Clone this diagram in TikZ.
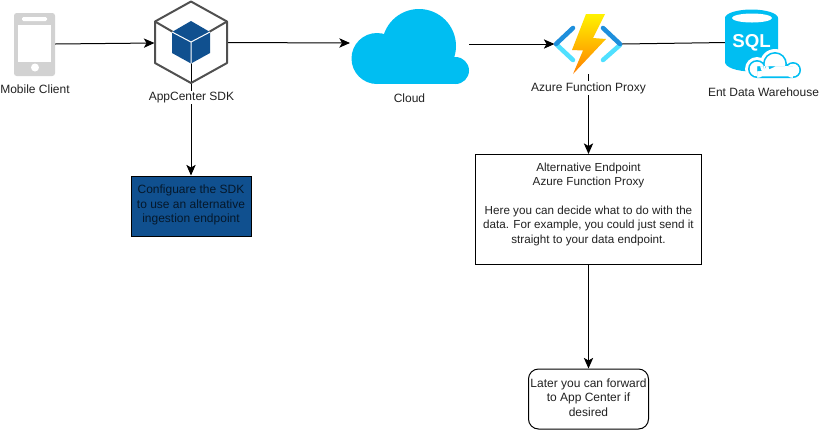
\documentclass[tikz,border=0pt]{standalone}
\usepackage{fontspec}
\setmainfont{Liberation Sans}
\usetikzlibrary{arrows.meta,shadings}
\definecolor{cyanA}{HTML}{00BEF2}
\definecolor{navyA}{HTML}{10508F}
\definecolor{grayA}{HTML}{D2D2D2}
\definecolor{hexA}{HTML}{505050}
\definecolor{txtA}{HTML}{222222}
\definecolor{chevD}{HTML}{1E8FDC}
\definecolor{chevL}{HTML}{50E0FF}
\tikzset{
 conn/.style={draw=black,line width=0.75pt,-{Stealth[length=8pt,width=7pt,inset=2pt]}},
 plainconn/.style={draw=black,line width=0.75pt},
 lbl/.style={font=\fontsize{9}{10.5}\selectfont,text=txtA,align=center,inner sep=1pt},
 lblw/.style={lbl,fill=white},
 boxa/.style={draw=black,line width=0.75pt,align=center,font=\fontsize{9}{10.8}\selectfont,text=txtA,inner sep=0pt},
}
\begin{document}
\begin{tikzpicture}[x=0.75pt,y=-0.75pt]
\useasboundingbox (0,0) rectangle (819,430);
\fill[white] (0,0) rectangle (819,430);
% anchors for the icons
\coordinate (phoneR) at (55,44);
\coordinate (hexL) at (154.5,43);
\coordinate (hexR) at (228,42.5);
\coordinate (hexC) at (191,42);
\coordinate (cloudL) at (350,43);
\coordinate (cloudR) at (469,44);
\coordinate (funL) at (554.5,44);
\coordinate (funR) at (622,44);
\coordinate (funB) at (588.5,74);
\coordinate (sqlL) at (726,42.5);
% boxes
\node[boxa,fill=navyA,text=black!70!navyA,minimum width=90pt,minimum height=45pt] (cfg) at (191,206) {Configuare the SDK\\to use an alternative\\ingestion endpoint\rule[-3pt]{0pt}{0pt}};
\node[boxa,fill=white,minimum width=169.5pt,minimum height=82.5pt,font=\fontsize{8.75}{10.8}\selectfont] (alt) at (588.5,209.5) {Alternative Endpoint\\Azure Function Proxy\\[10.8pt]Here you can decide what to do with the\\data. For example, you could just send it\\straight to your data endpoint.\rule[-10pt]{0pt}{0pt}};
\node[boxa,fill=white,rounded corners=7.5pt,minimum width=90pt,minimum height=45pt] (later) at (588.5,399) {Later you can forward\\to App Center if\\desired\rule[-2.5pt]{0pt}{0pt}};
% connectors
\draw[conn] (phoneR) -- (hexL);
\draw[conn] (hexR) -- (cloudL);
\draw[conn] (cloudR) -- (funL);
\draw[plainconn] (funR) -- (sqlL);
\draw[conn] (hexC) -- (cfg.north);
\draw[conn] (funB) -- (alt.north);
\draw[conn] (alt.south) -- (later.north);
% phone
\fill[grayA,rounded corners=2pt] (14,13) rectangle (55,76);
\fill[white] (18,25) rectangle (51,62);
\fill[white,rounded corners=1pt] (22,17) rectangle (47,21);
\fill[white] (35,67.5) circle (4);
% hexagon
\draw[hexA,line width=1.5pt,line join=round] (191,1.5) -- (227,21.5) -- (227,63) -- (191,83) -- (155,63) -- (155,21.5) -- cycle;
\draw[hexA,line width=1.5pt] (155,21.5) -- (173,32) (227,21.5) -- (209,32);
\fill[navyA] (191,21) -- (210,32) -- (210,53) -- (191,63.5) -- (172,53) -- (172,32) -- cycle;
\draw[white,line width=0.75pt] (172,32) -- (191,42) -- (210,32) (191,42) -- (191,63.5);
% cloud
\fill[cyanA] (377,58.5) circle (25.5) (419,46) circle (37) (455.5,70.5) circle (13.5);
\fill[cyanA] (377,60) rectangle (455.5,84);
% function
\draw[chevL,line width=3.4pt,line cap=round] (557,45) -- (573,60) (620,45) -- (603,60);
\draw[chevD,line width=3.4pt,line cap=round] (573,28) -- (556,44) (603,28) -- (620,44);
\shade[top color=yellow!90!orange,bottom color=orange] (586,14) -- (605,14) -- (593,38) -- (606,39) -- (573,74) -- (583,50.5) -- (572,50) -- cycle;
% SQL
\fill[cyanA] (725,18) arc[start angle=180,end angle=0,x radius=26.5,y radius=-8.5] -- (778,62) arc[start angle=0,end angle=180,x radius=26.5,y radius=9.5] -- cycle;
\fill[white] (752,18) ellipse (20 and 4.5);
\node[font=\fontsize{14}{14}\selectfont\bfseries,text=white,inner sep=0pt] (sqlt) at (751.5,42.5) {SQL};
\fill[white] (757,69) circle (12) (775,64) circle (15) (793,70) circle (11) (757,66) rectangle (793,81);
\fill[cyanA] (757,69) circle (9) (775,64) circle (12) (793,70) circle (8) (757,66) rectangle (793,78);
\fill[white] (757,69) circle (7.3) (775,64) circle (10.3) (793,70) circle (6.3) (757,66) rectangle (793,76.3);
% labels
\node[lbl] (mob) at (35,89.5) {Mobile Client};
\node[lblw] (app) at (191.5,97.5) {AppCenter SDK};
\node[lbl] (cld) at (409.5,98) {Cloud};
\node[lblw] (azf) at (588.5,88) {Azure Function Proxy};
\node[lbl] (ent) at (763.5,92.5) {Ent Data Warehouse};
\end{tikzpicture}
\end{document}
